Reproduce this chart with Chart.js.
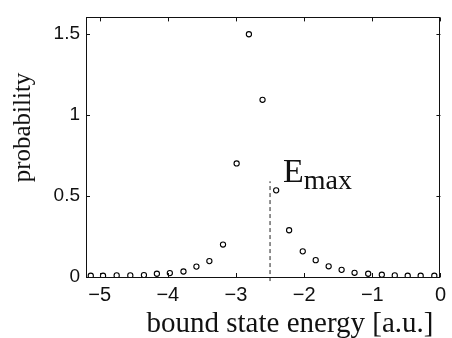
<!DOCTYPE html>
<html>
<head>
<meta charset="utf-8">
<script src="https://cdn.jsdelivr.net/npm/chart.js@4.4.1/dist/chart.umd.min.js"></script>
<style>
  html, body { margin: 0; padding: 0; background: #fff; }
  #wrap { width: 452px; height: 338px; }
</style>
</head>
<body>
<div id="wrap"><canvas id="c" width="452" height="338"></canvas></div>
<script>
// ---- data ----
const energies = [-5.13, -4.95, -4.75, -4.55, -4.35, -4.16, -3.97, -3.77, -3.58, -3.39, -3.19, -2.99,
                  -2.81, -2.61, -2.41, -2.22, -2.02, -1.83, -1.64, -1.45, -1.26, -1.06, -0.86, -0.67,
                  -0.48, -0.29, -0.09];
const probabilities = [0.008, 0.008, 0.010, 0.010, 0.012, 0.020, 0.024, 0.034, 0.064, 0.098, 0.200, 0.700,
                       1.496, 1.092, 0.534, 0.288, 0.158, 0.104, 0.066, 0.044, 0.026, 0.020, 0.014, 0.010,
                       0.008, 0.008, 0.008];
const xTickValues = [-5, -4, -3, -2, -1, 0];
const xTickLabels = ['\u22125', '\u22124', '\u22123', '\u22122', '\u22121', '0'];
const yTickValues = [0, 0.5, 1, 1.5];
const yTickLabels = ['0', '0.5', '1', '1.5'];
const eMax = -2.5;
const eMaxLineTop = 0.59;
const eMaxLineBottom = -0.025;
const xTitle = 'bound state energy [a.u.]';
const yTitle = 'probability';

const points = energies.map((e, i) => ({ x: e, y: probabilities[i] }));

const decor = {
  id: 'decor',
  afterDraw(chart) {
    const { ctx, chartArea: a, scales: { x, y } } = chart;
    ctx.save();
    ctx.strokeStyle = '#111';
    ctx.lineWidth = 1;
    // frame
    ctx.strokeRect(Math.round(a.left) + 0.5, Math.round(a.top) + 0.5,
                   Math.round(a.right) - Math.round(a.left) - 1, Math.round(a.bottom) - Math.round(a.top));
    // inward ticks
    const tl = 4;
    ctx.beginPath();
    x.ticks.forEach(t => {
      const px = Math.round(x.getPixelForValue(t.value)) + 0.5;
      ctx.moveTo(px, a.bottom); ctx.lineTo(px, a.bottom - tl);
      ctx.moveTo(px, a.top); ctx.lineTo(px, a.top + tl);
    });
    y.ticks.forEach(t => {
      const py = Math.round(y.getPixelForValue(t.value)) + 0.5;
      ctx.moveTo(a.left, py); ctx.lineTo(a.left + tl, py);
      ctx.moveTo(a.right, py); ctx.lineTo(a.right - tl, py);
    });
    ctx.stroke();
    // titles
    ctx.fillStyle = '#111';
    ctx.font = '25px "Liberation Serif"';
    ctx.textAlign = 'center';
    ctx.textBaseline = 'middle';
    ctx.save();
    ctx.translate(23, 127.5);
    ctx.rotate(-Math.PI / 2);
    ctx.fillText(yTitle, 0, 0);
    ctx.restore();
    ctx.font = '29px "Liberation Serif"';
    ctx.textBaseline = 'alphabetic';
    ctx.fillText(xTitle, 290, 331.5);
    // E_max label
    const ex = x.getPixelForValue(-2.31);
    const ey = y.getPixelForValue(0.584);
    ctx.textAlign = 'left';
    ctx.font = '34px "Liberation Serif"';
    ctx.fillText('E', ex, ey);
    const w = ctx.measureText('E').width;
    ctx.font = '28px "Liberation Serif"';
    ctx.fillText('max', ex + w, ey + 6.5);
    ctx.restore();
  }
};

new Chart(document.getElementById('c'), {
  type: 'scatter',
  data: {
    datasets: [
      {
        label: 'probability',
        data: points,
        showLine: false,
        pointStyle: 'circle',
        pointRadius: 2.6,
        pointBorderWidth: 1.1,
        pointBorderColor: '#000',
        pointBackgroundColor: '#fff'
      },
      {
        label: 'Emax',
        data: [{ x: eMax, y: eMaxLineBottom }, { x: eMax, y: eMaxLineTop }],
        showLine: true,
        borderColor: '#222',
        borderWidth: 1,
        borderDash: [4, 3],
        pointRadius: 0,
        clip: false
      }
    ]
  },
  options: {
    responsive: false,
    animation: false,
    events: [],
    layout: { padding: { left: 0, right: 5, top: 11, bottom: 0 } },
    plugins: { legend: { display: false }, tooltip: { enabled: false } },
    scales: {
      x: {
        type: 'linear',
        min: -5.2,
        max: 0,
        grid: { display: false, drawTicks: false },
        border: { display: false },
        afterBuildTicks: s => { s.ticks = xTickValues.map(v => ({ value: v })); },
        afterFit: s => { s.height = 61; },
        ticks: {
          autoSkip: false,
          maxRotation: 0,
          padding: 6,
          color: '#111',
          font: { family: '"Liberation Sans"', size: 20 },
          callback: v => xTickLabels[xTickValues.indexOf(v)]
        }
      },
      y: {
        type: 'linear',
        min: 0,
        max: 1.6,
        grid: { display: false, drawTicks: false },
        border: { display: false },
        afterBuildTicks: s => { s.ticks = yTickValues.map(v => ({ value: v })); },
        afterFit: s => { s.width = 86; },
        ticks: {
          autoSkip: false,
          padding: 6,
          color: '#111',
          font: { family: '"Liberation Sans"', size: 19 },
          callback: v => yTickLabels[yTickValues.indexOf(v)]
        }
      }
    }
  },
  plugins: [decor]
});
</script>
</body>
</html>
